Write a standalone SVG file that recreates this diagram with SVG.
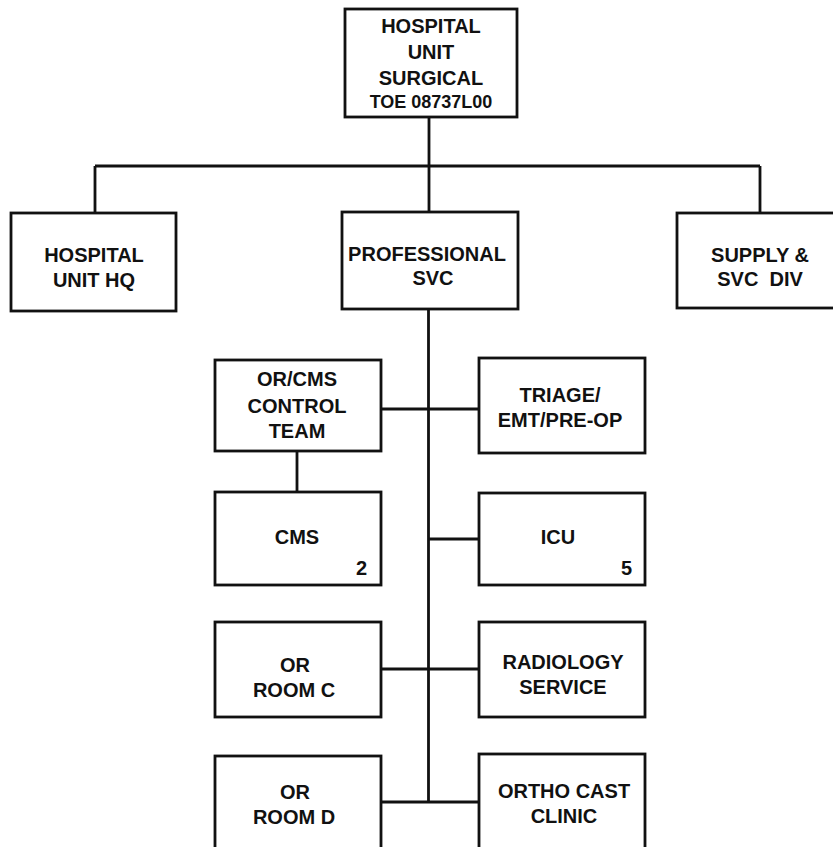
<svg xmlns="http://www.w3.org/2000/svg" width="833" height="847" viewBox="0 0 833 847">
<style>
.box{fill:#fff;stroke:#111;stroke-width:2.8}
.ln{stroke:#111;stroke-width:2.8;fill:none}
text{font-family:"Liberation Sans",Arial,sans-serif;font-weight:bold;font-size:20px;fill:#111;text-anchor:middle}
.sm{font-size:18px}
.num{text-anchor:end}
</style>
<rect width="833" height="847" fill="#fff"/>
<g id="connectors">
<path class="ln" d="M429,117 V212 M95,166 H760 M95,166 V213 M760,166 V213"/>
<path class="ln" d="M428.5,309 V802 M381,409 H479 M428.5,539 H479 M381,669 H479 M381,802 H479 M297,451 V492"/>
</g>
<g id="hospital-unit-surgical">
<rect class="box" x="345" y="9" width="172" height="108"/>
<text x="431" y="33">HOSPITAL</text>
<text x="431" y="59">UNIT</text>
<text x="431" y="85">SURGICAL</text>
<text class="sm" x="431" y="108">TOE 08737L00</text>
</g>
<g id="hospital-unit-hq">
<rect class="box" x="11" y="213" width="165" height="98"/>
<text x="94" y="262">HOSPITAL</text>
<text x="94" y="287">UNIT HQ</text>
</g>
<g id="professional-svc">
<rect class="box" x="342" y="212" width="176" height="97"/>
<text x="427" y="261">PROFESSIONAL</text>
<text x="433" y="285">SVC</text>
</g>
<g id="supply-svc-div">
<rect class="box" x="677" y="213" width="160" height="95"/>
<text x="760" y="262">SUPPLY &amp;</text>
<text x="760" y="286" xml:space="preserve">SVC  DIV</text>
</g>
<g id="or-cms-control-team">
<rect class="box" x="215" y="360" width="166" height="91"/>
<text x="297" y="386">OR/CMS</text>
<text x="297" y="413">CONTROL</text>
<text x="297" y="438">TEAM</text>
</g>
<g id="triage">
<rect class="box" x="479" y="358" width="166" height="95"/>
<text x="560" y="402">TRIAGE/</text>
<text x="560" y="427">EMT/PRE-OP</text>
</g>
<g id="cms">
<rect class="box" x="215" y="492" width="166" height="93"/>
<text x="297" y="544">CMS</text>
<text class="num" x="367" y="575">2</text>
</g>
<g id="icu">
<rect class="box" x="479" y="493" width="166" height="92"/>
<text x="558" y="544">ICU</text>
<text class="num" x="632" y="575">5</text>
</g>
<g id="or-room-c">
<rect class="box" x="215" y="622" width="166" height="95"/>
<text x="295" y="672">OR</text>
<text x="294" y="697">ROOM C</text>
</g>
<g id="radiology-service">
<rect class="box" x="479" y="622" width="166" height="95"/>
<text x="563" y="669">RADIOLOGY</text>
<text x="563" y="694">SERVICE</text>
</g>
<g id="or-room-d">
<rect class="box" x="215" y="756" width="166" height="100"/>
<text x="295" y="799">OR</text>
<text x="294" y="824">ROOM D</text>
</g>
<g id="ortho-cast-clinic">
<rect class="box" x="479" y="754" width="166" height="100"/>
<text x="564" y="798">ORTHO CAST</text>
<text x="564" y="823">CLINIC</text>
</g>
</svg>
